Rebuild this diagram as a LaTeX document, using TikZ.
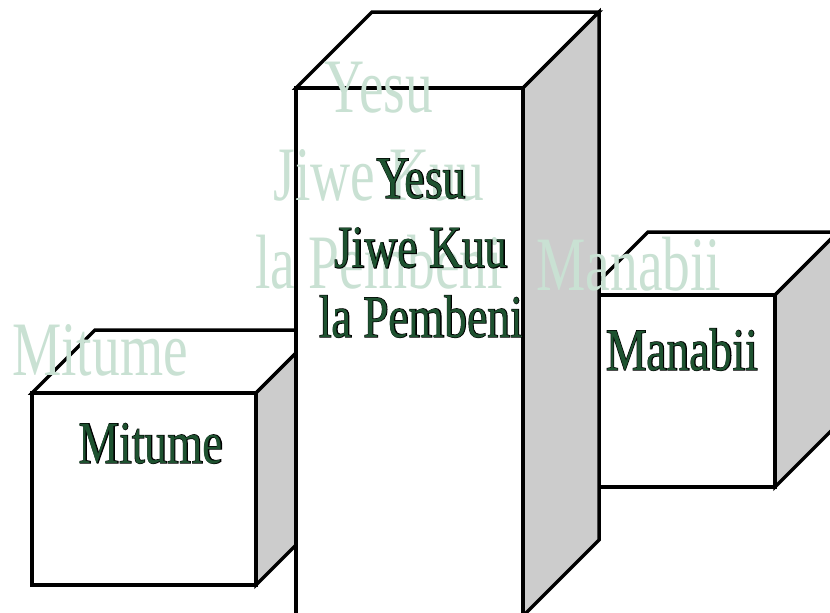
\documentclass[tikz,border=0pt]{standalone}
\usepackage{fontspec}
\setmainfont{Liberation Serif}
\newfontfamily\ghostfont{Liberation Serif}[FakeStretch=0.72]
\newfontfamily\carvefont{Liberation Serif}[FakeStretch=0.76]
\newfontfamily\carveedge{Liberation Serif}[FakeStretch=0.76,FakeBold=2]
\usepackage{xcolor}
\usepackage{tikz}
\definecolor{sidegray}{HTML}{CCCCCC}
\definecolor{ghost}{HTML}{C9E1D3}
\definecolor{stone}{HTML}{1E5230}
% black rim under the green letters
\newcommand{\carved}[1]{\makebox[0pt][l]{\carveedge\color{black}#1}#1}

\begin{document}
\begin{tikzpicture}[
  x=1pt, y=-1pt,
  boxline/.style={draw=black, line width=3.5pt, line join=miter},
  frontface/.style={boxline, fill=white},
  sideface/.style={boxline, fill=sidegray},
  ghosttext/.style={text=ghost, font=\ghostfont\fontsize{77}{88}\selectfont, inner sep=0pt, align=center},
  carvedtext/.style={text=stone, font=\carvefont\fontsize{60}{69.5}\selectfont, inner sep=0pt, align=center}
]
\useasboundingbox (0,0) rectangle (830,613);

% Mitume block
\draw[frontface] (32,393) -- (95,330) -- (319,330) -- (256,393) -- cycle;
\draw[sideface] (256,393) -- (319,330) -- (319,522) -- (256,585) -- cycle;
\draw[frontface] (32,393) rectangle (256,585);

% Manabii block
\draw[frontface] (585,295) -- (648,232) -- (838,232) -- (775,295) -- cycle;
\draw[sideface] (775,295) -- (838,232) -- (838,424) -- (775,487) -- cycle;
\draw[frontface] (585,295) rectangle (775,487);

% corner stone pillar
\draw[frontface] (296,88) -- (372,12) -- (599,12) -- (523,88) -- cycle;
\draw[sideface] (523,88) -- (599,12) -- (599,540) -- (523,616) -- cycle;
\draw[frontface] (296,88) rectangle (523,616);

% faint shadows of the labels (base = last line)
\node[ghosttext, anchor=base] (ghostpillar) at (379,288) {Yesu\\Jiwe Kuu\\la Pembeni};
\node[ghosttext, anchor=base] (ghostleft) at (100,375) {Mitume};
\node[ghosttext, anchor=base] (ghostright) at (629,290) {Manabii};

% labels
\node[carvedtext, anchor=base] (pillarlabel) at (421,337) {\carved{Yesu}\\\carved{Jiwe Kuu}\\\carved{la Pembeni}};
\node[carvedtext, anchor=base] (leftlabel) at (151,463) {\carved{Mitume}};
\node[carvedtext, anchor=base] (rightlabel) at (682,370) {\carved{Manabii}};
\end{tikzpicture}
\end{document}
